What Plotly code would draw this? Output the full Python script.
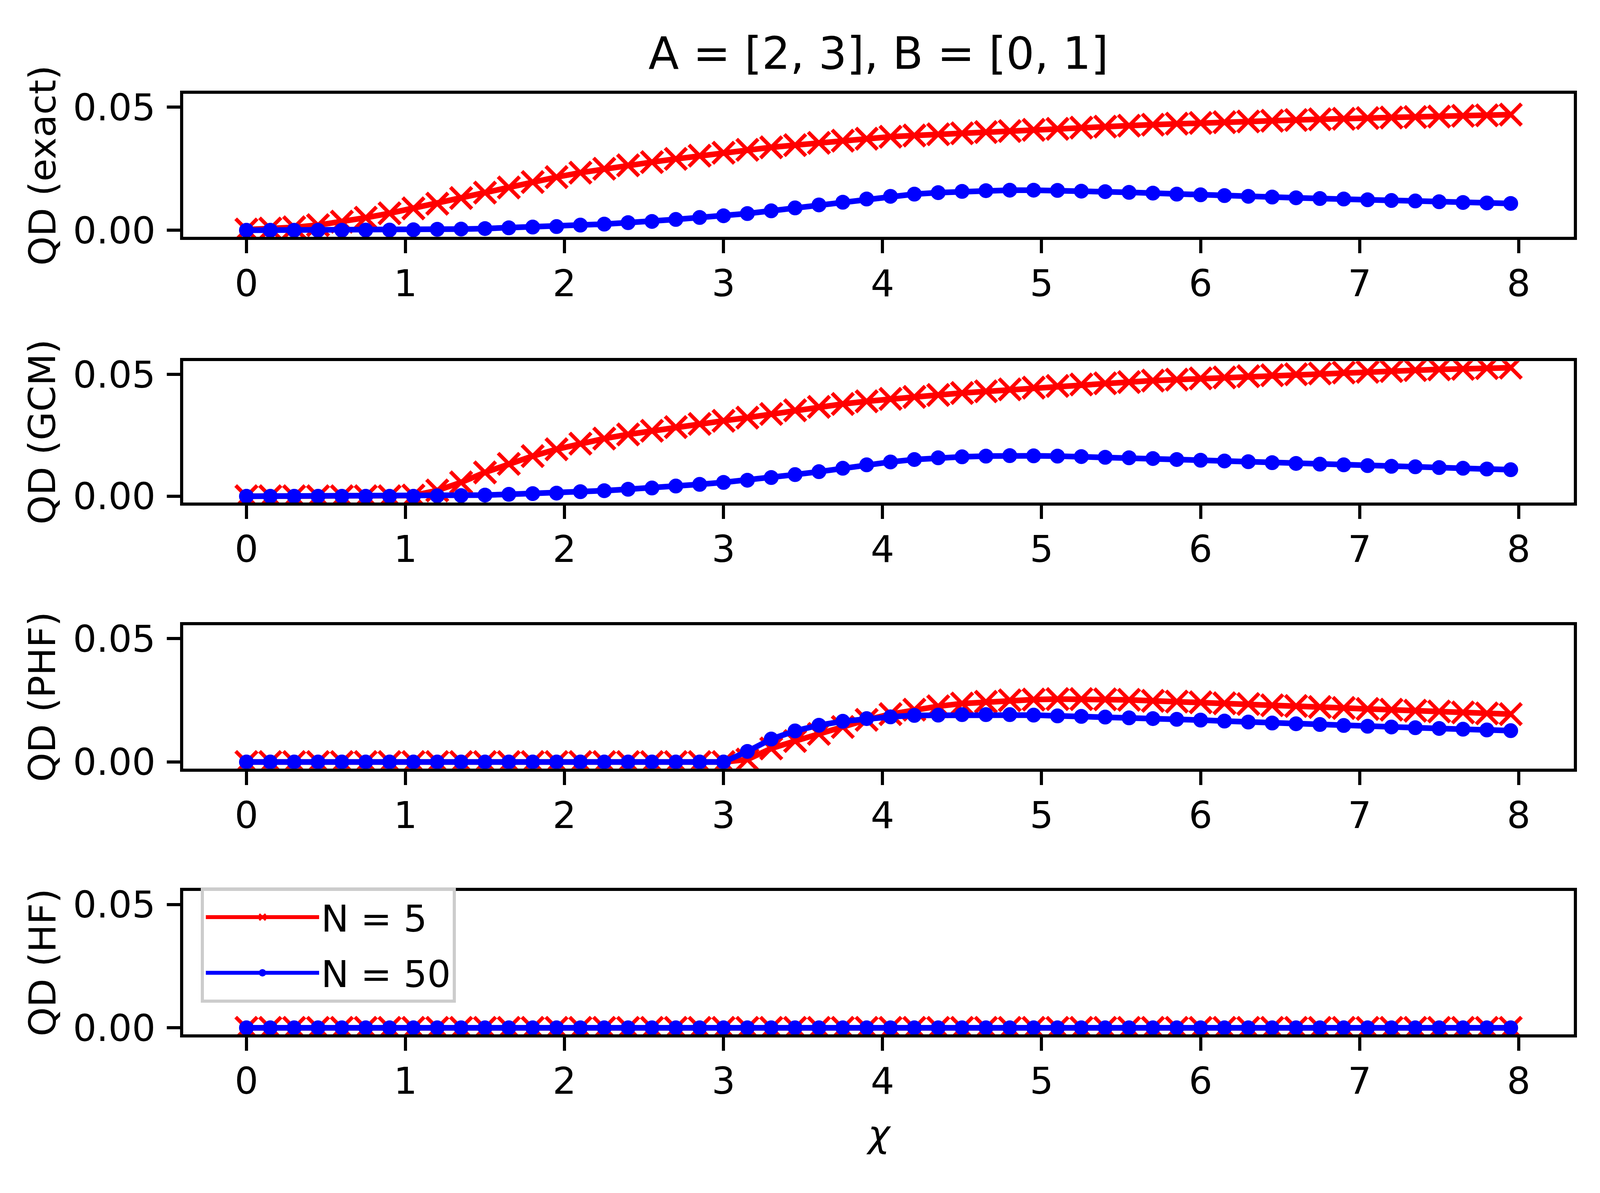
import plotly.graph_objects as go

# chi grid (step 0.15, 54 points)
chi = [0.00, 0.15, 0.30, 0.45, 0.60, 0.75, 0.90, 1.05, 1.20, 1.35,
       1.50, 1.65, 1.80, 1.95, 2.10, 2.25, 2.40, 2.55, 2.70, 2.85,
       3.00, 3.15, 3.30, 3.45, 3.60, 3.75, 3.90, 4.05, 4.20, 4.35,
       4.50, 4.65, 4.80, 4.95, 5.10, 5.25, 5.40, 5.55, 5.70, 5.85,
       6.00, 6.15, 6.30, 6.45, 6.60, 6.75, 6.90, 7.05, 7.20, 7.35,
       7.50, 7.65, 7.80, 7.95]

# QD (exact)
exact_n5 = [0.0003, 0.0007, 0.0012, 0.0021, 0.0035, 0.0051, 0.0069, 0.0089, 0.0108, 0.0131,
            0.0153, 0.0174, 0.0196, 0.0216, 0.0234, 0.0250, 0.0264, 0.0277, 0.0290, 0.0303,
            0.0315, 0.0327, 0.0337, 0.0346, 0.0355, 0.0364, 0.0372, 0.0380, 0.0385, 0.0390,
            0.0394, 0.0399, 0.0403, 0.0408, 0.0412, 0.0417, 0.0421, 0.0425, 0.0429, 0.0433,
            0.0436, 0.0439, 0.0442, 0.0445, 0.0448, 0.0451, 0.0453, 0.0456, 0.0458, 0.0460,
            0.0462, 0.0465, 0.0467, 0.0470]
exact_n50 = [0.0000, 0.0000, 0.0000, 0.0000, 0.0000, 0.0001, 0.0001, 0.0002, 0.0004, 0.0005,
             0.0007, 0.0010, 0.0013, 0.0015, 0.0021, 0.0025, 0.0031, 0.0036, 0.0044, 0.0052,
             0.0059, 0.0068, 0.0079, 0.0091, 0.0103, 0.0114, 0.0127, 0.0138, 0.0147, 0.0153,
             0.0158, 0.0161, 0.0163, 0.0163, 0.0162, 0.0159, 0.0157, 0.0154, 0.0151, 0.0147,
             0.0144, 0.0141, 0.0138, 0.0135, 0.0132, 0.0129, 0.0127, 0.0124, 0.0121, 0.0119,
             0.0116, 0.0113, 0.0111, 0.0109]

# QD (GCM)
gcm_n5 = [0.0000, 0.0000, 0.0000, 0.0000, 0.0000, 0.0000, 0.0000, 0.0003, 0.0024, 0.0057,
          0.0098, 0.0133, 0.0165, 0.0193, 0.0216, 0.0237, 0.0254, 0.0269, 0.0284, 0.0297,
          0.0310, 0.0323, 0.0338, 0.0353, 0.0367, 0.0379, 0.0390, 0.0400, 0.0408, 0.0416,
          0.0424, 0.0431, 0.0439, 0.0446, 0.0453, 0.0459, 0.0464, 0.0469, 0.0475, 0.0479,
          0.0484, 0.0488, 0.0493, 0.0497, 0.0501, 0.0504, 0.0508, 0.0511, 0.0514, 0.0518,
          0.0521, 0.0523, 0.0526, 0.0528]
gcm_n50 = [0.0000, 0.0000, 0.0000, 0.0000, 0.0000, 0.0000, 0.0000, 0.0000, 0.0002, 0.0003,
           0.0005, 0.0008, 0.0011, 0.0013, 0.0019, 0.0023, 0.0029, 0.0034, 0.0042, 0.0049,
           0.0057, 0.0066, 0.0077, 0.0089, 0.0101, 0.0115, 0.0129, 0.0141, 0.0151, 0.0158,
           0.0162, 0.0165, 0.0167, 0.0166, 0.0165, 0.0163, 0.0160, 0.0158, 0.0155, 0.0151,
           0.0148, 0.0145, 0.0142, 0.0138, 0.0135, 0.0132, 0.0129, 0.0126, 0.0123, 0.0121,
           0.0118, 0.0115, 0.0112, 0.0109]

# QD (PHF)
phf_n5 = [0.0000, 0.0000, 0.0000, 0.0000, 0.0000, 0.0000, 0.0000, 0.0000, 0.0000, 0.0000,
          0.0000, 0.0000, 0.0000, 0.0000, 0.0000, 0.0000, 0.0000, 0.0000, 0.0000, 0.0000,
          0.0000, 0.0010, 0.0055, 0.0085, 0.0114, 0.0142, 0.0171, 0.0194, 0.0212, 0.0226,
          0.0237, 0.0244, 0.0250, 0.0253, 0.0255, 0.0255, 0.0254, 0.0252, 0.0248, 0.0245,
          0.0242, 0.0238, 0.0235, 0.0230, 0.0227, 0.0223, 0.0219, 0.0215, 0.0212, 0.0208,
          0.0205, 0.0201, 0.0197, 0.0194]
phf_n50 = [0.0000, 0.0000, 0.0000, 0.0000, 0.0000, 0.0000, 0.0000, 0.0000, 0.0000, 0.0000,
           0.0000, 0.0000, 0.0000, 0.0000, 0.0000, 0.0000, 0.0000, 0.0000, 0.0000, 0.0000,
           0.0000, 0.0043, 0.0093, 0.0126, 0.0149, 0.0165, 0.0176, 0.0183, 0.0189, 0.0190,
           0.0192, 0.0192, 0.0192, 0.0190, 0.0187, 0.0185, 0.0182, 0.0179, 0.0176, 0.0173,
           0.0170, 0.0166, 0.0162, 0.0158, 0.0155, 0.0152, 0.0148, 0.0145, 0.0142, 0.0139,
           0.0136, 0.0133, 0.0130, 0.0127]

# QD (HF) - flat at zero for both N
hf_n5 = [0.0000, 0.0000, 0.0000, 0.0000, 0.0000, 0.0000, 0.0000, 0.0000, 0.0000, 0.0000,
         0.0000, 0.0000, 0.0000, 0.0000, 0.0000, 0.0000, 0.0000, 0.0000, 0.0000, 0.0000,
         0.0000, 0.0000, 0.0000, 0.0000, 0.0000, 0.0000, 0.0000, 0.0000, 0.0000, 0.0000,
         0.0000, 0.0000, 0.0000, 0.0000, 0.0000, 0.0000, 0.0000, 0.0000, 0.0000, 0.0000,
         0.0000, 0.0000, 0.0000, 0.0000, 0.0000, 0.0000, 0.0000, 0.0000, 0.0000, 0.0000,
         0.0000, 0.0000, 0.0000, 0.0000]
hf_n50 = [0.0000, 0.0000, 0.0000, 0.0000, 0.0000, 0.0000, 0.0000, 0.0000, 0.0000, 0.0000,
          0.0000, 0.0000, 0.0000, 0.0000, 0.0000, 0.0000, 0.0000, 0.0000, 0.0000, 0.0000,
          0.0000, 0.0000, 0.0000, 0.0000, 0.0000, 0.0000, 0.0000, 0.0000, 0.0000, 0.0000,
          0.0000, 0.0000, 0.0000, 0.0000, 0.0000, 0.0000, 0.0000, 0.0000, 0.0000, 0.0000,
          0.0000, 0.0000, 0.0000, 0.0000, 0.0000, 0.0000, 0.0000, 0.0000, 0.0000, 0.0000,
          0.0000, 0.0000, 0.0000, 0.0000]

panel_labels = ["QD (exact)", "QD (GCM)", "QD (PHF)", "QD (HF)"]
panel_n5 = [exact_n5, gcm_n5, phf_n5, hf_n5]
panel_n50 = [exact_n50, gcm_n50, phf_n50, hf_n50]

x_ticks = [0, 1, 2, 3, 4, 5, 6, 7, 8]
y_ticks = [0.0, 0.05]
y_ticktext = ["0.00", "0.05"]

FONT = "DejaVu Sans"
FS = 95          # tick / label font size
H = 3037         # width follows the browser window (autosize)

# panel boxes in paper coords (bottom, top)
y_domains = [(0.8062, 0.9291), (0.5776, 0.6992), (0.3491, 0.4723), (0.1206, 0.2438)]
x_domain = (0.1130, 0.9856)

fig = go.Figure()

for i in range(4):
    sfx = "" if i == 0 else str(i + 1)
    last = (i == 3)
    fig.add_trace(go.Scatter(
        x=chi, y=panel_n5[i], xaxis="x" + sfx, yaxis="y" + sfx,
        mode="lines+markers", name="N = 5", showlegend=last, legendgroup="n5",
        line=dict(color="#ff0000", width=14.5),
        marker=dict(symbol="x-thin", size=55, color="#ff0000",
                    line=dict(color="#ff0000", width=9.7)),
    ))
    fig.add_trace(go.Scatter(
        x=chi, y=panel_n50[i], xaxis="x" + sfx, yaxis="y" + sfx,
        mode="lines+markers", name="N = 50", showlegend=last, legendgroup="n50",
        line=dict(color="#0000ff", width=14.5),
        marker=dict(symbol="circle", size=35, color="#0000ff",
                    line=dict(color="#0000ff", width=3)),
    ))

axis_common = dict(
    showline=True, linecolor="black", linewidth=7.7, mirror=True,
    ticks="outside", ticklen=34, tickwidth=7.7, tickcolor="black",
    showgrid=False, zeroline=False,
    tickfont=dict(family=FONT, size=FS, color="black"),
)

layout_axes = {}
for i in range(4):
    sfx = "" if i == 0 else str(i + 1)
    layout_axes["xaxis" + sfx] = dict(
        axis_common, domain=list(x_domain), anchor="y" + sfx,
        range=[-0.3975, 8.3475], tickvals=x_ticks, ticklabelstandoff=-4,
    )
    layout_axes["yaxis" + sfx] = dict(
        axis_common, domain=list(y_domains[i]), anchor="x" + sfx,
        range=[-0.00264, 0.05544], tickvals=y_ticks, ticktext=y_ticktext,
        ticklabelstandoff=10,
    )

annotations = []
x_mid = (x_domain[0] + x_domain[1]) / 2
annotations.append(dict(
    text="A = [2, 3], B = [0, 1]", x=x_mid, y=0.9638, xref="paper", yref="paper",
    xanchor="center", yanchor="middle", showarrow=False,
    font=dict(family=FONT, size=114, color="black"),
))
for i, lab in enumerate(panel_labels):
    annotations.append(dict(
        text=lab, x=0.0247, y=sum(y_domains[i]) / 2, xref="paper", yref="paper",
        xanchor="center", yanchor="middle", showarrow=False, textangle=-90,
        font=dict(family=FONT, size=FS, color="black"),
    ))
annotations.append(dict(
    text="<i>χ</i>", x=x_mid, y=0.0352, xref="paper", yref="paper",
    xanchor="center", yanchor="middle", showarrow=False,
    font=dict(family=FONT, size=FS, color="black"),
))

fig.update_layout(
    height=H, autosize=True,
    margin=dict(l=0, r=0, t=0, b=0),
    paper_bgcolor="white", plot_bgcolor="white",
    font=dict(family=FONT, size=FS, color="black"),
    annotations=annotations,
    legend=dict(
        x=0.1240, y=0.2470, xanchor="left", yanchor="top",
        bgcolor="rgba(255,255,255,0.8)", bordercolor="#cccccc", borderwidth=8,
        font=dict(family=FONT, size=FS, color="black"),
        itemwidth=290, tracegroupgap=16,
    ),
    **layout_axes,
)

fig.write_html("out.html")
